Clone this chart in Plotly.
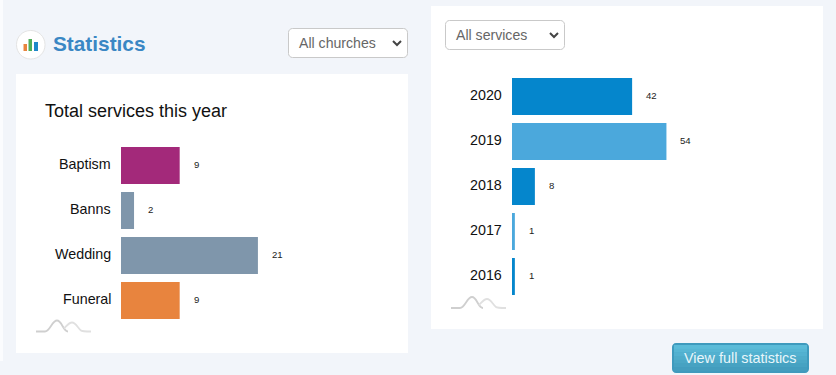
import plotly.graph_objects as go

W, H = 836, 375

services = ["Baptism", "Banns", "Wedding", "Funeral"]
service_counts = [9, 2, 21, 9]
service_colors = ["#a3297a", "#7f96ab", "#7f96ab", "#e8843e"]

years = ["2020", "2019", "2018", "2017", "2016"]
year_counts = [42, 54, 8, 1, 1]
year_colors = ["#0586cc", "#4ba8dc", "#0586cc", "#4ba8dc", "#0586cc"]

FONT = "Liberation Sans, Arial, sans-serif"
BG = "#f2f5fa"


def fx(x):
    return x / W


def fy(y):
    return 1 - y / H


def pts(s):
    """Turn an SVG-like path in page pixels into paper coordinates."""
    out = []
    for tok in s.split():
        if "," in tok:
            a, b = tok.split(",")
            out.append(f"{fx(float(a)):.5f},{fy(float(b)):.5f}")
        else:
            out.append(tok)
    return " ".join(out)


def rrect(x0, y0, x1, y1, r):
    k = r * 0.45
    return pts(
        f"M {x0+r},{y0} L {x1-r},{y0} C {x1-k},{y0} {x1},{y0+k} {x1},{y0+r} "
        f"L {x1},{y1-r} C {x1},{y1-k} {x1-k},{y1} {x1-r},{y1} "
        f"L {x0+r},{y1} C {x0+k},{y1} {x0},{y1-k} {x0},{y1-r} "
        f"L {x0},{y0+r} C {x0},{y0+k} {x0+k},{y0} {x0+r},{y0} Z"
    )


shapes = []


def rect(x0, y0, x1, y1, color, layer="below"):
    shapes.append(dict(type="rect", xref="paper", yref="paper", layer=layer,
                       x0=fx(x0), x1=fx(x1), y0=fy(y0), y1=fy(y1),
                       fillcolor=color, line_width=0))


def path(d, fill=None, line=None, width=1, layer="above"):
    shapes.append(dict(type="path", xref="paper", yref="paper", layer=layer, path=d,
                       fillcolor=fill or "rgba(0,0,0,0)",
                       line=dict(color=line or "rgba(0,0,0,0)", width=width if line else 0)))


annotations = []


def label(x, y, text, size, color, anchor="left", bold=False):
    annotations.append(dict(xref="paper", yref="paper", x=fx(x), y=fy(y), text=f"<b>{text}</b>" if bold else text,
                            showarrow=False, xanchor=anchor, yanchor="middle",
                            xshift=0, font=dict(family=FONT, size=size, color=color),
                            borderpad=0, borderwidth=0))


def select(x0, y0, x1, y1, text):
    path(rrect(x0 + .5, y0 + .5, x1 - .5, y1 - .5, 4), fill="white", line="#c9c9c9", width=1)
    label(x0 + 11, (y0 + y1) / 2, text, 14.1, "#666666")
    cx, cy = x1 - 11, (y0 + y1) / 2
    path(pts(f"M {cx-4},{cy-2} L {cx},{cy+2} L {cx+4},{cy-2}"), line="#444444", width=2)


def squiggle(x, y):
    path(pts(f"M {x},{y} L {x+9},{y} C {x+14},{y} {x+16},{y-11} {x+21},{y-11} "
             f"C {x+26},{y-11} {x+27},{y} {x+32},{y}"), line="#cfcfcf", width=1.8)
    path(pts(f"M {x+28},{y-3} C {x+31},{y-6} {x+33},{y-9} {x+36},{y-9} "
             f"C {x+40},{y-9} {x+42},{y-3} {x+45},{y-1} "
             f"C {x+46},{y} {x+48},{y} {x+55},{y}"), line="#e0e0e0", width=1.8)


# page surfaces
rect(0, 0, 3, 361, "#fbfcfe")
rect(16, 74, 408, 353, "white")
rect(431, 6, 823, 329, "white")

# header
path(rrect(16.5, 30.5, 45, 59, 14), fill="white", line="#e4e4e4", width=1)
for x0, x1, y0, c in [(23.5, 27, 44, "#e8843e"), (28.5, 32, 39, "#4fae5a"), (34, 38, 42, "#1e88c9")]:
    rect(x0, y0, x1, 51, c, layer="above")
label(53, 44, "Statistics", 20.8, "#3a87c4", bold=True)
select(288, 28, 408, 58, "All churches")
label(45, 111, "Total services this year", 18, "#111111")
select(445, 20, 565, 50, "All services")
squiggle(36, 331.5)
squiggle(451, 308)

# button
path(rrect(672, 343, 809, 373, 4), fill="#3f9abd")
for i, c in enumerate(["#5bbbd8", "#57b6d4", "#53b1d0", "#4facca", "#4ba7c6", "#47a2c2", "#439dbe"]):
    rect(674, 345 + i * 3.7, 807, 349 + i * 3.7, c, layer="above")
label(740.5, 358, "View full statistics", 14.4, "#e8f6fb", anchor="center")

fig = go.Figure()
fig.add_bar(x=service_counts, y=services, orientation="h", marker_color=service_colors,
            marker_line_width=0, xaxis="x", yaxis="y", hoverinfo="x+y")
fig.add_bar(x=year_counts, y=years, orientation="h", marker_color=year_colors,
            marker_line_width=0, xaxis="x2", yaxis="y2", hoverinfo="x+y")

for xr, yr, cats, vals in [("x", "y", services, service_counts), ("x2", "y2", years, year_counts)]:
    for i, (cat, val) in enumerate(zip(cats, vals)):
        annotations.append(dict(xref=xr, yref=yr, x=val, y=i, text=str(val), showarrow=False,
                                xanchor="left", xshift=12, yshift=1,
                                font=dict(family=FONT, size=9.6, color="#222222")))
        annotations.append(dict(xref=xr, yref=yr, x=0, y=i, text=cat, showarrow=False,
                                xanchor="right", xshift=-8, yshift=1.5,
                                font=dict(family=FONT, size=14.3, color="#111111")))

fig.update_layout(
    width=W, height=H, margin=dict(l=0, r=0, t=0, b=0, pad=0), autosize=False,
    paper_bgcolor=BG, plot_bgcolor="rgba(0,0,0,0)", showlegend=False, bargap=8 / 45,
    shapes=shapes, annotations=annotations,
    xaxis=dict(domain=[fx(121), fx(408)], range=[0, 287 / 6.52], visible=False, anchor="y"),
    yaxis=dict(domain=[fy(323), fy(143)], range=[3.5, -0.5], type="category", anchor="x",
               showline=False, showgrid=False, ticks="", showticklabels=False),
    xaxis2=dict(domain=[fx(512), fx(823)], range=[0, 311 / 2.86], visible=False, anchor="y2"),
    yaxis2=dict(domain=[fy(299), fy(74)], range=[4.5, -0.5], type="category", anchor="x2",
                showline=False, showgrid=False, ticks="", showticklabels=False),
)

fig.write_html("out.html", config=dict(displayModeBar=False),
               post_script="document.body.style.margin='0';document.body.style.overflow='hidden';")
